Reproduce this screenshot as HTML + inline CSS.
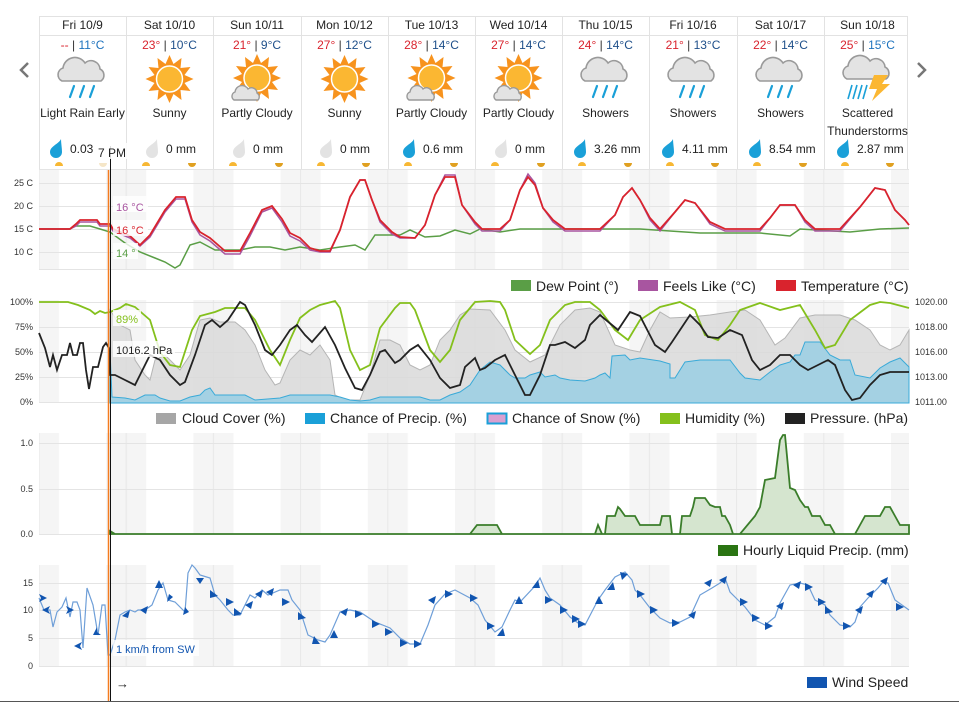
<!DOCTYPE html>
<html><head><meta charset="utf-8"><style>
html,body{margin:0;padding:0;background:#fff;}
svg{display:block;font-family:"Liberation Sans",sans-serif;}
</style></head><body>
<svg width="959" height="702" viewBox="0 0 959 702" xmlns="http://www.w3.org/2000/svg">
<defs>
<pattern id="night" patternUnits="userSpaceOnUse" x="19" y="0" width="87.2" height="702">
<rect x="0" y="0" width="40" height="702" fill="#f5f5f5"/>
<line x1="20" y1="0" x2="20" y2="702" stroke="#e8e8e8" stroke-width="1"/>
</pattern>
<g id="sun">
<polygon fill="#f7931e" points="0,-24 4,-15 12,-21 11,-11 21,-12 15,-4 24,0 15,4 21,12 11,11 12,21 4,15 0,24 -4,15 -12,21 -11,11 -21,12 -15,4 -24,0 -15,-4 -21,-12 -11,-11 -12,-21 -4,-15"/>
<circle r="13" fill="#fbb732" stroke="#fff" stroke-width="1.5"/>
</g>
<g id="cloud">
<path d="M-20,8 a7,7 0 0,1 1,-13 a12,12 0 0,1 22,-5 a9,9 0 0,1 15,6 a7,7 0 0,1 1,12 z" fill="#e3e3e3" stroke="#9a9a9a" stroke-width="1.6"/>
</g>
<g id="smcloud">
<path d="M-12,5 a4.5,4.5 0 0,1 1,-8 a7,7 0 0,1 13,-3 a5.5,5.5 0 0,1 9,4 a4.5,4.5 0 0,1 1,7 z" fill="#e3e3e3" stroke="#9a9a9a" stroke-width="1.4"/>
</g>
<g id="rain" stroke="#1aa0d8" stroke-width="2.2" stroke-linecap="round">
<line x1="-8" y1="13" x2="-12" y2="24"/><line x1="2" y1="13" x2="-2" y2="24"/><line x1="12" y1="13" x2="8" y2="24"/>
</g>
<g id="drop"><path d="M5,-8 C3,-3 -6,-1 -6,5 a6,6 0 0,0 12,0 C6,1 5,-4 5,-8z" fill="#1aa0d8"/></g>
<g id="dropg"><path d="M5,-8 C3,-3 -6,-1 -6,5 a6,6 0 0,0 12,0 C6,1 5,-4 5,-8z" fill="#e3e3e3"/></g>
</defs>

<g stroke="#e2e2e2" stroke-width="1" fill="none">
<line x1="39" y1="16.5" x2="908" y2="16.5"/>
<line x1="39" y1="35.5" x2="908" y2="35.5"/>
<line x1="39.5" y1="16" x2="39.5" y2="169"/>
<line x1="126.5" y1="16" x2="126.5" y2="169"/>
<line x1="213.5" y1="16" x2="213.5" y2="169"/>
<line x1="301.5" y1="16" x2="301.5" y2="169"/>
<line x1="388.5" y1="16" x2="388.5" y2="169"/>
<line x1="475.5" y1="16" x2="475.5" y2="169"/>
<line x1="562.5" y1="16" x2="562.5" y2="169"/>
<line x1="649.5" y1="16" x2="649.5" y2="169"/>
<line x1="737.5" y1="16" x2="737.5" y2="169"/>
<line x1="824.5" y1="16" x2="824.5" y2="169"/>
<line x1="907.5" y1="16" x2="907.5" y2="169"/>
</g>
<polyline points="28,63 21,70 28,77" fill="none" stroke="#777" stroke-width="2.5"/>
<polyline points="918,63 925,70 918,77" fill="none" stroke="#777" stroke-width="2.5"/>

<g font-size="12" fill="#222" text-anchor="middle">
<text x="82.5" y="29">Fri 10/9</text>
<text x="169.5" y="29">Sat 10/10</text>
<text x="257" y="29">Sun 10/11</text>
<text x="344.5" y="29">Mon 10/12</text>
<text x="431.5" y="29">Tue 10/13</text>
<text x="518.5" y="29">Wed 10/14</text>
<text x="605.5" y="29">Thu 10/15</text>
<text x="693" y="29">Fri 10/16</text>
<text x="780.5" y="29">Sat 10/17</text>
<text x="867.5" y="29">Sun 10/18</text>
</g>
<g font-size="12" text-anchor="middle">
<text x="82.5" y="49"><tspan fill="#d9232d">--</tspan><tspan fill="#333"> | </tspan><tspan fill="#1e73be">11°C</tspan></text>
<text x="169.5" y="49"><tspan fill="#d9232d">23°</tspan><tspan fill="#333"> | </tspan><tspan fill="#1e4f8a">10°C</tspan></text>
<text x="257" y="49"><tspan fill="#d9232d">21°</tspan><tspan fill="#333"> | </tspan><tspan fill="#1e4f8a">9°C</tspan></text>
<text x="344.5" y="49"><tspan fill="#d9232d">27°</tspan><tspan fill="#333"> | </tspan><tspan fill="#1e4f8a">12°C</tspan></text>
<text x="431.5" y="49"><tspan fill="#d9232d">28°</tspan><tspan fill="#333"> | </tspan><tspan fill="#1e4f8a">14°C</tspan></text>
<text x="518.5" y="49"><tspan fill="#d9232d">27°</tspan><tspan fill="#333"> | </tspan><tspan fill="#1e4f8a">14°C</tspan></text>
<text x="605.5" y="49"><tspan fill="#d9232d">24°</tspan><tspan fill="#333"> | </tspan><tspan fill="#1e4f8a">14°C</tspan></text>
<text x="693" y="49"><tspan fill="#d9232d">21°</tspan><tspan fill="#333"> | </tspan><tspan fill="#1e4f8a">13°C</tspan></text>
<text x="780.5" y="49"><tspan fill="#d9232d">22°</tspan><tspan fill="#333"> | </tspan><tspan fill="#1e4f8a">14°C</tspan></text>
<text x="867.5" y="49"><tspan fill="#d9232d">25°</tspan><tspan fill="#333"> | </tspan><tspan fill="#1e73be">15°C</tspan></text>
</g>
<use href="#cloud" x="82" y="73"/><use href="#rain" x="82" y="73"/>
<use href="#sun" x="169.5" y="79"/>
<use href="#sun" x="257" y="78"/><use href="#smcloud" x="246" y="95"/>
<use href="#sun" x="344.5" y="79"/>
<use href="#sun" x="431.5" y="78"/><use href="#smcloud" x="421" y="95"/>
<use href="#sun" x="518.5" y="78"/><use href="#smcloud" x="508" y="95"/>
<use href="#cloud" x="605" y="73"/><use href="#rain" x="605" y="73"/>
<use href="#cloud" x="692" y="73"/><use href="#rain" x="692" y="73"/>
<use href="#cloud" x="780" y="73"/><use href="#rain" x="780" y="73"/>
<use href="#cloud" x="867" y="71"/>
<g stroke="#1aa0d8" stroke-width="1.6"><line x1="852" y1="85" x2="848" y2="99"/><line x1="857" y1="85" x2="853" y2="99"/><line x1="862" y1="85" x2="858" y2="99"/><line x1="867" y1="85" x2="863" y2="99"/></g>
<polygon points="874,75 888,75 882,84 890,84 872,101 877,89 869,89" fill="#fbb732"/>

<g font-size="12" fill="#222" text-anchor="middle">
<text x="82.5" y="117">Light Rain Early</text>
<text x="169.5" y="117">Sunny</text>
<text x="257" y="117">Partly Cloudy</text>
<text x="344.5" y="117">Sunny</text>
<text x="431.5" y="117">Partly Cloudy</text>
<text x="518.5" y="117">Partly Cloudy</text>
<text x="605.5" y="117">Showers</text>
<text x="693" y="117">Showers</text>
<text x="780.5" y="117">Showers</text>
<text x="867.5" y="117">Scattered</text>
<text x="867.5" y="135">Thunderstorms</text>
</g>
<g font-size="12" fill="#222">
<use href="#drop" x="56" y="147"/><text x="70" y="153">0.03</text>
<use href="#dropg" x="152" y="147"/><text x="166" y="153">0 mm</text>
<use href="#dropg" x="239" y="147"/><text x="253" y="153">0 mm</text>
<use href="#dropg" x="326" y="147"/><text x="340" y="153">0 mm</text>
<use href="#drop" x="409" y="147"/><text x="423" y="153">0.6 mm</text>
<use href="#dropg" x="501" y="147"/><text x="515" y="153">0 mm</text>
<use href="#drop" x="580" y="147"/><text x="594" y="153">3.26 mm</text>
<use href="#drop" x="668" y="147"/><text x="682" y="153">4.11 mm</text>
<use href="#drop" x="755" y="147"/><text x="769" y="153">8.54 mm</text>
<use href="#drop" x="843" y="147"/><text x="857" y="153">2.87 mm</text>
</g>
<g fill="#f7b733">
<path d="M55,166 a4,4 0 0,1 8,0z"/><path d="M99,163 a4,4 0 0,0 8,0z" fill="#f5e6c8"/>
<path d="M142,166 a4,4 0 0,1 8,0z"/><path d="M188,163 a4,4 0 0,0 8,0z" fill="#e0a020"/>
<path d="M229,166 a4,4 0 0,1 8,0z"/><path d="M275,163 a4,4 0 0,0 8,0z" fill="#e0a020"/>
<path d="M317,166 a4,4 0 0,1 8,0z"/><path d="M362,163 a4,4 0 0,0 8,0z" fill="#e0a020"/>
<path d="M404,166 a4,4 0 0,1 8,0z"/><path d="M450,163 a4,4 0 0,0 8,0z" fill="#e0a020"/>
<path d="M491,166 a4,4 0 0,1 8,0z"/><path d="M537,163 a4,4 0 0,0 8,0z" fill="#e0a020"/>
<path d="M578,166 a4,4 0 0,1 8,0z"/><path d="M624,163 a4,4 0 0,0 8,0z" fill="#e0a020"/>
<path d="M666,166 a4,4 0 0,1 8,0z"/><path d="M711,163 a4,4 0 0,0 8,0z" fill="#e0a020"/>
<path d="M753,166 a4,4 0 0,1 8,0z"/><path d="M799,163 a4,4 0 0,0 8,0z" fill="#e0a020"/>
<path d="M841,166 a4,4 0 0,1 8,0z"/><path d="M886,163 a4,4 0 0,0 8,0z" fill="#e0a020"/>
</g>

<g>
<rect x="39" y="169" width="870" height="101" fill="url(#night)"/>
<rect x="39" y="300" width="870" height="103" fill="url(#night)"/>
<rect x="39" y="433" width="870" height="102" fill="url(#night)"/>
<rect x="39" y="565" width="870" height="102" fill="url(#night)"/>
</g>
<g stroke="#e4e4e4" stroke-width="1">
<line x1="39" y1="169.5" x2="909" y2="169.5"/><line x1="39" y1="183.5" x2="909" y2="183.5"/><line x1="39" y1="206.5" x2="909" y2="206.5"/><line x1="39" y1="229.5" x2="909" y2="229.5"/><line x1="39" y1="252.5" x2="909" y2="252.5"/><line x1="39" y1="269.5" x2="909" y2="269.5"/>
<line x1="39" y1="302.5" x2="909" y2="302.5"/><line x1="39" y1="327.5" x2="909" y2="327.5"/><line x1="39" y1="352.5" x2="909" y2="352.5"/><line x1="39" y1="377.5" x2="909" y2="377.5"/><line x1="39" y1="402.5" x2="909" y2="402.5"/>
<line x1="39" y1="443.5" x2="909" y2="443.5"/><line x1="39" y1="489.5" x2="909" y2="489.5"/><line x1="39" y1="534.5" x2="909" y2="534.5"/>
<line x1="39" y1="583.5" x2="909" y2="583.5"/><line x1="39" y1="610.5" x2="909" y2="610.5"/><line x1="39" y1="638.5" x2="909" y2="638.5"/><line x1="39" y1="666.5" x2="909" y2="666.5"/>
</g>
<g font-size="9" fill="#333" text-anchor="end">
<text x="33" y="186">25 C</text><text x="33" y="209">20 C</text><text x="33" y="232">15 C</text><text x="33" y="255">10 C</text>
<text x="33" y="305">100%</text><text x="33" y="330">75%</text><text x="33" y="355">50%</text><text x="33" y="380">25%</text><text x="33" y="405">0%</text>
<text x="33" y="446">1.0</text><text x="33" y="492">0.5</text><text x="33" y="537">0.0</text>
<text x="33" y="586">15</text><text x="33" y="613">10</text><text x="33" y="641">5</text><text x="33" y="669">0</text>
</g>
<g font-size="9" fill="#333">
<text x="915" y="305">1020.00</text><text x="915" y="330">1018.00</text><text x="915" y="355">1016.00</text><text x="915" y="380">1013.00</text><text x="915" y="405">1011.00</text>
</g>

<polyline fill="none" stroke="#5a9e46" stroke-width="1.5" points="39,229 70,229 75,226 90,226 100,229 110,232 125,243 140,252 155,258 165,262 175,268 180,265 190,245 200,242 215,250 240,250 255,247 270,247 285,250 300,247 320,250 340,247 355,245 365,250 375,235 385,235 400,235 410,230 425,237 440,236 455,230 470,234 480,229 500,232 520,229 560,229 600,229 640,229 700,233 760,233 790,236 800,229 850,232 880,229 909,228"/>
<polyline fill="none" stroke="#a855a0" stroke-width="1.5" points="39,229 70,229 76,226 80,222 97,222 100,226 110,226 113,231 130,238 140,246 150,237 165,212 176,199 185,199 192,222 200,235 210,241 225,254 240,254 250,236 262,212 272,208 282,222 290,236 300,241 310,250 320,252 330,252 340,230 350,197 360,180 365,180 372,200 380,222 392,234 400,238 415,238 425,225 435,195 445,175 455,175 462,205 475,224 482,231 500,231 510,220 520,190 528,174 535,183 543,208 553,222 565,231 600,231 615,215 623,197 632,188 640,200 650,220 660,231 675,212 685,200 695,203 710,224 725,231 760,231 770,218 780,205 795,205 805,222 815,231 840,231 860,207 875,188 885,190 895,210 905,220 909,225"/>
<polyline fill="none" stroke="#d9232d" stroke-width="1.8" points="39,229 70,229 76,224 80,220 97,220 100,224 110,224 113,229 130,236 140,245 150,235 165,210 176,197 185,197 192,220 200,232 210,238 225,251 240,251 250,233 262,210 272,206 282,219 290,233 300,238 310,248 320,251 330,251 340,230 350,197 360,180 365,180 372,200 380,220 392,232 400,237 415,238 425,225 435,195 445,177 455,177 462,205 475,222 482,229 500,229 510,220 520,190 528,177 535,185 543,208 553,220 565,229 600,229 615,215 623,197 632,188 640,200 650,218 660,229 675,212 685,200 695,203 710,222 725,229 760,229 770,218 780,205 795,205 805,220 815,229 840,229 860,207 875,188 885,190 895,210 905,220 909,225"/>

<polygon fill="#d9d9d9" fill-opacity="0.85" stroke="#b5b5b5" stroke-width="1" points="110,403 110,310 120,325 130,330 135,360 145,375 150,380 155,360 165,355 175,365 180,370 190,355 200,320 210,318 220,322 235,322 245,330 255,345 265,370 275,385 280,383 290,360 300,350 310,355 320,345 330,360 335,395 345,400 360,400 370,375 380,340 390,340 400,345 410,365 420,370 430,365 440,340 450,330 460,315 470,309 490,310 505,330 515,350 530,362 545,355 560,325 575,310 590,308 600,312 615,345 630,350 640,352 650,330 660,312 670,318 690,317 710,315 730,312 745,310 760,320 775,345 785,338 800,318 815,315 840,315 855,320 870,330 880,345 890,350 900,345 909,330 909,403"/>
<polygon fill="#9dcfe3" fill-opacity="0.9" stroke="#3aaad8" stroke-width="1" points="110,403 110,350 112,397 125,398 135,400 145,395 155,395 160,398 170,401 180,401 190,397 200,395 205,390 210,388 215,395 245,395 255,400 280,398 290,395 330,395 340,397 350,400 360,401 370,400 380,397 420,397 430,400 440,400 450,395 460,392 470,385 480,370 490,362 500,365 510,375 515,378 525,378 530,375 540,372 545,377 555,375 560,378 570,380 585,381 595,378 600,375 605,373 610,378 612,356 625,355 630,360 640,358 660,361 670,364 670,378 675,378 685,362 700,360 720,360 730,360 740,373 745,378 760,380 770,372 780,365 790,362 795,355 800,355 805,342 820,342 830,355 840,360 850,360 855,375 870,378 880,368 890,362 900,358 909,367 909,403"/>
<polyline fill="none" stroke="#84c01c" stroke-width="1.8" points="39,302 68,302 78,305 90,310 95,314 100,311 105,313 110,312 120,308 126,304 135,307 150,320 160,352 170,365 180,367 192,330 200,316 215,312 225,308 245,308 255,320 270,350 280,365 290,340 300,318 310,310 320,305 335,301 340,308 350,350 360,370 370,365 380,328 395,308 400,303 410,303 415,310 430,350 440,362 450,350 460,320 475,302 490,301 500,302 505,310 515,340 530,354 540,345 550,320 565,305 575,302 590,302 600,310 615,330 628,340 640,320 660,307 680,302 695,310 705,335 718,340 730,325 740,310 760,303 780,310 800,305 815,330 825,348 835,345 850,320 870,305 880,302 890,303 909,308"/>
<polyline fill="none" stroke="#222" stroke-width="1.8" points="39,333 45,348 50,367 53,355 57,370 62,355 67,355 70,343 73,355 77,355 80,343 83,343 86,370 89,389 93,367 98,367 103,347 106,343 109,348 110,375 115,375 125,380 135,385 140,375 150,355 160,360 170,375 180,385 185,382 195,355 205,325 212,320 220,327 228,320 240,302 245,305 255,325 265,350 272,355 280,345 290,330 297,325 305,335 312,342 325,327 335,345 345,368 355,388 362,390 370,375 380,352 385,350 395,363 400,360 410,350 418,345 430,360 440,378 450,388 460,385 465,367 475,358 480,370 485,368 495,360 505,355 515,375 525,395 530,395 540,375 550,345 555,345 565,342 575,348 585,340 590,325 600,315 612,325 618,330 630,312 640,316 655,345 665,352 672,342 680,330 690,315 700,325 708,337 718,338 730,330 742,335 752,360 760,370 770,365 780,355 790,355 800,365 808,370 818,365 828,360 835,365 845,390 852,400 860,398 870,385 880,375 890,372 909,372"/>

<polygon fill="#d5e5cf" stroke="#3a7d2a" stroke-width="1.8" points="110,534 110,531 115,534 470,534 477,525 497,525 502,534 595,534 598,525 602,534 605,534 607,516 615,516 618,507 620,509 625,516 635,516 640,525 660,525 662,516 670,516 672,534 680,534 682,516 690,516 693,507 695,498 705,498 710,505 715,507 720,507 722,516 725,516 730,525 733,534 740,534 755,516 760,507 765,480 775,478 780,440 783,435 785,435 790,488 795,490 800,500 805,507 808,507 812,516 820,516 825,525 830,525 835,534 855,534 860,525 865,516 880,516 885,507 890,507 895,516 900,525 909,525 909,534"/>

<polyline fill="none" stroke="#6f9fd8" stroke-width="1.2" points="39,598 44,610 50,610 53,627 57,612 62,607 66,598 70,617 73,602 77,602 80,610 83,648 87,588 93,605 98,635 102,605 105,605 108,655 110,655 115,640 120,615 125,612 130,610 135,612 138,610 145,610 152,605 158,590 163,583 168,600 175,602 185,612 188,573 192,565 195,568 200,575 210,578 215,595 220,600 228,610 233,615 240,615 245,605 250,595 255,598 262,590 268,595 280,590 288,590 292,600 300,610 308,635 318,640 325,642 330,635 340,612 350,610 360,612 375,622 390,628 400,638 410,644 420,644 428,625 435,605 445,594 455,590 470,598 478,605 485,620 495,632 502,627 510,610 515,600 520,602 535,586 540,578 545,590 550,598 560,605 570,617 578,623 585,625 598,600 605,590 615,577 625,572 632,580 635,590 640,595 650,608 660,618 670,623 680,622 690,617 700,595 712,588 720,583 725,578 730,592 738,600 745,607 755,620 765,625 775,617 780,603 790,585 800,583 808,585 815,600 825,605 830,615 840,625 850,627 855,622 860,607 868,598 878,588 883,582 888,583 895,600 909,610"/>
<g fill="#1155b0">
<path d="M39,594 l8,4 -8,4 2,-4z"/><path d="M50,606 l-8,4 8,4 -2,-4z"/><path d="M66,606 l8,4 -8,4 2,-4z"/><path d="M82,642 l-8,4 8,4 -2,-4z"/><path d="M97,627 l-4,8 8,0 -4,-3z"/>
<path d="M122,616 l8,-6 -2,8z"/><path d="M140,610 l8,-4 -2,8z"/><path d="M155,588 l4,-8 4,8z"/><path d="M169,594 l-2,8 6,-5z"/><path d="M185,607 l-2,8 6,-3z"/>
<path d="M196,578 l8,0 -4,6z"/><path d="M210,590 l8,6 -8,2z"/><path d="M226,598 l8,4 -8,4z"/><path d="M234,608 l8,6 -8,2z"/><path d="M245,605 l8,-4 -2,8z"/><path d="M255,594 l8,-4 -2,8z"/><path d="M266,592 l8,-4 -2,8z"/>
<path d="M282,598 l8,4 -8,4z"/><path d="M298,612 l8,6 -8,2z"/><path d="M314,636 l6,8 -8,0z"/><path d="M330,638 l4,-8 4,8z"/><path d="M340,612 l8,-4 -2,8z"/><path d="M355,610 l8,4 -8,4z"/>
<path d="M372,620 l8,4 -8,4z"/><path d="M385,628 l8,4 -8,4z"/><path d="M400,639 l8,4 -8,4z"/><path d="M414,640 l8,4 -8,4z"/><path d="M428,600 l8,-4 -2,8z"/><path d="M445,590 l8,4 -8,4z"/>
<path d="M470,594 l8,4 -8,4z"/><path d="M487,622 l8,4 -8,4z"/><path d="M503,628 l-6,8 8,0z"/><path d="M515,604 l4,-8 4,8z"/><path d="M532,588 l6,-8 2,8z"/><path d="M545,596 l8,4 -8,4z"/>
<path d="M560,606 l8,4 -8,4z"/><path d="M572,615 l8,4 -8,4z"/><path d="M578,620 l8,4 -8,4z"/><path d="M595,604 l4,-8 4,8z"/><path d="M607,590 l6,-8 2,8z"/><path d="M620,572 l8,2 -6,6z"/>
<path d="M637,590 l8,4 -8,4z"/><path d="M650,606 l8,4 -8,4z"/><path d="M672,619 l8,4 -8,4z"/><path d="M688,615 l8,-4 -2,8z"/><path d="M704,583 l8,-4 -2,8z"/><path d="M719,580 l8,-4 -2,8z"/>
<path d="M740,598 l8,4 -8,4z"/><path d="M752,614 l8,4 -8,4z"/><path d="M765,622 l8,4 -8,4z"/><path d="M776,606 l8,-4 -2,8z"/><path d="M793,585 l8,-4 -2,8z"/><path d="M805,583 l8,4 -8,4z"/>
<path d="M818,598 l8,4 -8,4z"/><path d="M825,606 l8,6 -8,2z"/><path d="M843,622 l8,4 -8,4z"/><path d="M855,610 l8,-4 -2,8z"/><path d="M866,594 l8,-4 -2,8z"/><path d="M880,581 l8,-4 -2,8z"/><path d="M896,603 l8,4 -8,4z"/>
</g>

<g font-size="14" fill="#222">
<rect x="511" y="280" width="20" height="11" fill="#5a9e46"/><text x="536" y="291">Dew Point (°)</text>
<rect x="638" y="280" width="20" height="11" fill="#a855a0"/><text x="663" y="291">Feels Like (°C)</text>
<rect x="776" y="280" width="20" height="11" fill="#d9232d"/><text x="801" y="291">Temperature (°C)</text>
<rect x="156" y="413" width="20" height="11" fill="#a6a6a6"/><text x="182" y="423">Cloud Cover (%)</text>
<rect x="305" y="413" width="20" height="11" fill="#1aa0d8"/><text x="330" y="423">Chance of Precip. (%)</text>
<rect x="487.5" y="413.5" width="19" height="10" fill="#d9a0d0" stroke="#1aa0d8" stroke-width="2"/><text x="512" y="423">Chance of Snow (%)</text>
<rect x="660" y="413" width="20" height="11" fill="#84c01c"/><text x="685" y="423">Humidity (%)</text>
<rect x="785" y="413" width="20" height="11" fill="#222"/><text x="810" y="423">Pressure. (hPa)</text>
<rect x="718" y="545" width="20" height="11" fill="#2a7412"/><text x="743" y="555">Hourly Liquid Precip. (mm)</text>
<rect x="807" y="677" width="20" height="11" fill="#1155b0"/><text x="832" y="687">Wind Speed</text>
</g>

<line x1="108.5" y1="170" x2="108.5" y2="702" stroke="#f47c20" stroke-width="1.5"/>
<line x1="110.5" y1="146" x2="110.5" y2="702" stroke="#111" stroke-width="1"/>
<rect x="95" y="143" width="34" height="16" fill="#fff" fill-opacity="0.85"/>
<text x="98" y="157" font-size="12" fill="#222">7 PM</text>
<g font-size="11">
<rect x="113" y="196" width="35" height="16" fill="#fff" fill-opacity="0.8"/><text x="116" y="211" fill="#a855a0">16 °C</text>
<rect x="113" y="220" width="35" height="16" fill="#fff" fill-opacity="0.8"/><text x="116" y="234" fill="#d9232d">16 °C</text>
<rect x="113" y="243" width="25" height="16" fill="#fff" fill-opacity="0.8"/><text x="116" y="257" fill="#5a9e46">14 °</text>
<rect x="113" y="310" width="28" height="16" fill="#fff" fill-opacity="0.8"/><text x="116" y="323" fill="#84c01c">89%</text>
<rect x="113" y="341" width="62" height="16" fill="#fff" fill-opacity="0.8"/><text x="116" y="354" fill="#222">1016.2 hPa</text>
<rect x="113" y="640" width="86" height="16" fill="#fff" fill-opacity="0.8"/><text x="116" y="653" fill="#1155b0">1 km/h from SW</text>
</g>
<text x="116" y="688" font-size="13" fill="#222">→</text>
<line x1="0" y1="701.5" x2="959" y2="701.5" stroke="#555" stroke-width="1"/>
</svg>
</body></html>
